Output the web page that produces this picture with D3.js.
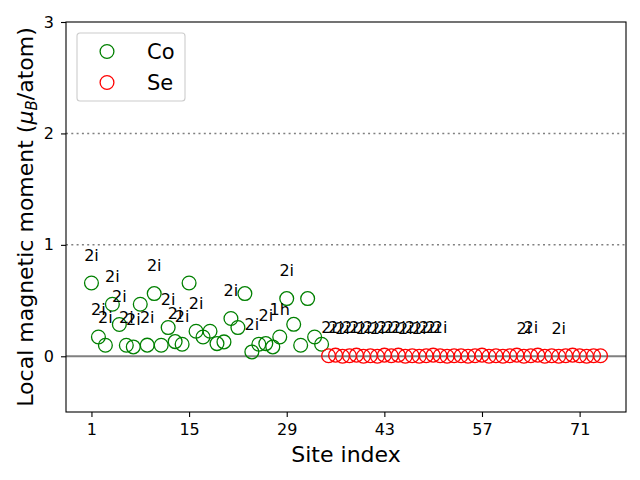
<!DOCTYPE html>
<html>
<head>
<meta charset="utf-8">
<script src="https://cdnjs.cloudflare.com/ajax/libs/d3/7.8.5/d3.min.js"></script>
<style>
  body { margin: 0; background: #fff; }
  text { font-family: "DejaVu Sans", sans-serif; }
</style>
</head>
<body>
<div id="scatter"></div>
<script>
// Local magnetic moment per site, Co sites 1-34 and Se sites 35-74
var coMoments = [0.658, 0.173, 0.099, 0.467, 0.285, 0.099, 0.084, 0.467, 0.100, 0.563,
                 0.099, 0.258, 0.132, 0.108, 0.658, 0.225, 0.173, 0.225, 0.114, 0.129,
                 0.339, 0.258, 0.563, 0.039, 0.108, 0.114, 0.084, 0.173, 0.518, 0.287,
                 0.099, 0.518, 0.173, 0.108];
var seMoments = [0.005, 0.010, 0.000, 0.005, 0.010, 0.000, 0.005, 0.000, 0.010, 0.005,
                 0.010, 0.000, 0.005, 0.000, 0.005, 0.010, 0.005, 0.000, 0.005, 0.005,
                 0.000, 0.005, 0.010, 0.000, 0.005, 0.000, 0.005, 0.010, 0.000, 0.005,
                 0.010, 0.000, 0.005, 0.000, 0.005, 0.010, 0.005, 0.000, 0.005, 0.005];

// Wyckoff labels written above some of the sites ("" = no label)
var coWyckoff = ["2i", "2i", "2i", "2i", "2i", "2i", "2i", "", "2i", "2i",
                 "", "2i", "2i", "2i", "", "2i", "", "", "", "",
                 "2i", "", "", "2i", "", "2i", "", "1h", "2i", "",
                 "", "", "", ""];
var seWyckoff = ["2i", "2i", "2i", "2i", "2i", "2i", "2i", "2i", "2i", "2i",
                 "2i", "2i", "2i", "2i", "2i", "2i", "2i", "", "", "",
                 "", "", "", "", "", "", "", "", "2i", "2i",
                 "", "", "", "2i", "", "", "", "", "", ""];

var xTicks = [1, 15, 29, 43, 57, 71];
var yTicks = [0, 1, 2, 3];
var refLines = [1, 2];

var svgWidth = 640;
var svgHeight = 480;

var margin = {
    top: 22,
    right: 14,
    bottom: 68,
    left: 66
};

var chartWidth = svgWidth - margin.left - margin.right;
var chartHeight = svgHeight - margin.top - margin.bottom;

var svg = d3.select("#scatter")
    .append("svg")
    .attr("width", svgWidth)
    .attr("height", svgHeight);

var chartGroup = svg.append("g")
    .attr("transform", `translate(${margin.left}, ${margin.top})`);

// Build one list of sites from the two species
var sites = [];
coMoments.forEach(function(m, i) {
    sites.push({ index: i + 1, moment: m, species: "Co", label: coWyckoff[i] });
});
seMoments.forEach(function(m, i) {
    sites.push({ index: coMoments.length + i + 1, moment: m, species: "Se", label: seWyckoff[i] });
});

var colors = { Co: "green", Se: "red" };

// matplotlib style 5% padding on the x range
var n = sites.length;
var pad = (n - 1) * 0.05;
var xLinearScale = d3.scaleLinear()
    .range([0, chartWidth])
    .domain([1 - pad, n + pad]);

var yLinearScale = d3.scaleLinear()
    .range([chartHeight, 0])
    .domain([-0.5, 3]);

// Reference lines
chartGroup.selectAll(".refline")
    .data(refLines)
    .enter()
    .append("line")
    .attr("class", "refline")
    .attr("x1", 0)
    .attr("x2", chartWidth)
    .attr("y1", d => yLinearScale(d))
    .attr("y2", d => yLinearScale(d))
    .attr("stroke", "gray")
    .attr("stroke-width", 1.5)
    .attr("stroke-dasharray", "2,3.3");

chartGroup.append("line")
    .attr("x1", 0)
    .attr("x2", chartWidth)
    .attr("y1", yLinearScale(0))
    .attr("y2", yLinearScale(0))
    .attr("stroke", "gray")
    .attr("stroke-width", 2);

// Axes
var bottomAxis = d3.axisBottom(xLinearScale)
    .tickValues(xTicks)
    .tickFormat(d3.format("d"))
    .tickSize(5)
    .tickSizeOuter(0)
    .tickPadding(7);
var leftAxis = d3.axisLeft(yLinearScale)
    .tickValues(yTicks)
    .tickFormat(d3.format("d"))
    .tickSize(5)
    .tickSizeOuter(0)
    .tickPadding(7);

var xAxisG = chartGroup.append("g")
    .attr("transform", `translate(0, ${chartHeight})`)
    .call(bottomAxis);
var yAxisG = chartGroup.append("g")
    .call(leftAxis);

[xAxisG, yAxisG].forEach(function(g) {
    g.select(".domain").remove();
    g.selectAll("line").attr("stroke-width", 1.1);
    g.selectAll("text")
      .attr("font-size", "16px")
      .attr("font-family", "DejaVu Sans")
      .attr("fill", "black");
});

// Frame
chartGroup.append("rect")
    .attr("width", chartWidth)
    .attr("height", chartHeight)
    .attr("fill", "none")
    .attr("stroke", "black")
    .attr("stroke-width", 1.1);

// Site circles
chartGroup.selectAll("circle.site")
    .data(sites)
    .enter()
    .append("circle")
    .attr("class", "site")
    .attr("cx", d => xLinearScale(d.index))
    .attr("cy", d => yLinearScale(d.moment))
    .attr("r", 6.9)
    .attr("fill", "none")
    .attr("stroke", d => colors[d.species])
    .attr("stroke-width", 1.3);

// Wyckoff labels
chartGroup.selectAll("text.wyck")
    .data(sites.filter(d => d.label !== ""))
    .enter()
    .append("text")
    .attr("class", "wyck")
    .attr("x", d => xLinearScale(d.index))
    .attr("y", d => yLinearScale(d.moment + 0.2))
    .attr("text-anchor", "middle")
    .attr("font-size", "16px")
    .text(d => d.label);

// Axis titles
chartGroup.append("text")
    .attr("transform", `translate(${chartWidth / 2}, ${chartHeight + 50})`)
    .attr("text-anchor", "middle")
    .attr("font-size", "22px")
    .text("Site index");

var yTitle = chartGroup.append("text")
    .attr("transform", `translate(-33, ${chartHeight / 2}) rotate(-90)`)
    .attr("text-anchor", "middle")
    .attr("font-size", "22px");
yTitle.append("tspan").text("Local magnetic moment (");
yTitle.append("tspan").attr("font-style", "italic").text("\u03bc");
yTitle.append("tspan").attr("font-style", "italic").attr("font-size", "15px").attr("dy", 4).text("B");
yTitle.append("tspan").attr("dy", -4).text("/atom)");

// Legend
var legend = chartGroup.append("g")
    .attr("transform", "translate(11, 11)");

legend.append("rect")
    .attr("width", 108)
    .attr("height", 68)
    .attr("rx", 3)
    .attr("fill", "white")
    .attr("fill-opacity", 0.8)
    .attr("stroke", "#cccccc")
    .attr("stroke-width", 1.1);

var species = ["Co", "Se"];
var legendItems = legend.selectAll("g.item")
    .data(species)
    .enter()
    .append("g")
    .attr("class", "item")
    .attr("transform", (d, i) => `translate(0, ${18.5 + i * 31})`);

legendItems.append("circle")
    .attr("cx", 30)
    .attr("r", 6.9)
    .attr("fill", "none")
    .attr("stroke", d => colors[d])
    .attr("stroke-width", 1.3);

legendItems.append("text")
    .attr("x", 70)
    .attr("y", 7.5)
    .attr("font-size", "21px")
    .text(d => d);
</script>
</body>
</html>
